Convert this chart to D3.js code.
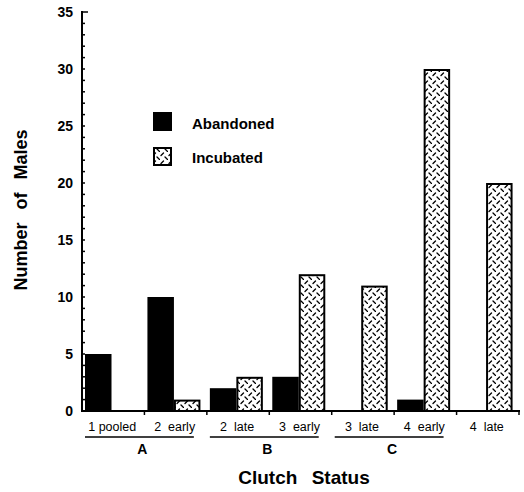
<!DOCTYPE html>
<html>
<head>
<meta charset="utf-8">
<script src="https://cdn.jsdelivr.net/npm/d3@7"></script>
<style>
  body { margin: 0; background: white; }
  svg { display: block; font-family: "Liberation Sans", Arial, sans-serif; }
</style>
</head>
<body>
<svg width="524" height="492"></svg>
<script>
// Data
const categories = ["1 pooled", "2  early", "2  late", "3  early", "3  late", "4  early", "4  late"]
const abandoned = [5, 10, 2, 3, 0, 1, 0]
const incubated = [0, 1, 3, 12, 11, 30, 20]
const groups = ["A", "B", "C"]
const group_members = [[0, 1], [2, 3], [4, 5]]
const y_ticks = [0, 5, 10, 15, 20, 25, 30, 35]

const svg = d3.select("svg")

// Hatch pattern for incubated bars
const defs = svg.append("defs")
const pat = defs.append("pattern")
    .attr("id", "hatch")
    .attr("patternUnits", "userSpaceOnUse")
    .attr("width", 8)
    .attr("height", 8)
pat.append("rect").attr("width", 8).attr("height", 8).attr("fill", "white")
pat.append("path")
    .attr("d", "M1,3.5 L3.5,1 M5,5 L7.5,7.5")
    .attr("stroke", "black")
    .attr("stroke-width", 1.3)
    .attr("stroke-linecap", "round")

const plot_left = 82, plot_right = 519, plot_top = 12, plot_bottom = 411

const x = d3.scaleBand()
    .domain(d3.range(categories.length))
    .range([plot_left, plot_right])

const x1 = d3.scaleBand()
    .domain(["abandoned", "incubated"])
    .range([3, 56])

const y = d3.scaleLinear()
    .domain([0, 35])
    .range([plot_bottom, plot_top])

// Bars
const g = svg.append("g")
categories.forEach(function(c, i) {
    g.append("rect")
        .attr("x", x(i) + x1("abandoned"))
        .attr("y", y(abandoned[i]))
        .attr("width", x1.bandwidth())
        .attr("height", y(0) - y(abandoned[i]))
        .attr("fill", "black")
    if (incubated[i] > 0) {
        g.append("rect")
            .attr("x", x(i) + x1("incubated") + 1)
            .attr("y", y(incubated[i]) + 1)
            .attr("width", x1.bandwidth() - 2)
            .attr("height", y(0) - y(incubated[i]) - 1)
            .attr("fill", "url(#hatch)")
            .attr("stroke", "black")
            .attr("stroke-width", 2)
    }
})

// Y axis: minor ticks every unit, pointing inward
const y_axis = svg.append("g")
y_axis.append("line")
    .attr("x1", plot_left).attr("x2", plot_left)
    .attr("y1", y(35) - 1).attr("y2", y(0) + 1)
    .attr("stroke", "black").attr("stroke-width", 2)
y_axis.selectAll(".minor")
    .data(d3.range(0, 36))
    .enter()
    .append("line")
    .attr("x1", plot_left)
    .attr("x2", d => d == 35 ? plot_left + 6 : plot_left + 3)
    .attr("y1", d => y(d))
    .attr("y2", d => y(d))
    .attr("stroke", "black")
    .attr("stroke-width", 1.5)
y_axis.selectAll("text")
    .data(y_ticks)
    .enter()
    .append("text")
    .attr("x", plot_left - 9)
    .attr("y", d => y(d) + 5)
    .attr("text-anchor", "end")
    .attr("font-size", "14px")
    .attr("font-weight", "bold")
    .text(d => d)

// X axis
const x_axis = svg.append("g")
x_axis.append("line")
    .attr("x1", plot_left - 1).attr("x2", plot_right + 1)
    .attr("y1", plot_bottom).attr("y2", plot_bottom)
    .attr("stroke", "black").attr("stroke-width", 2)
x_axis.selectAll(".tick")
    .data(d3.range(1, categories.length + 1))
    .enter()
    .append("line")
    .attr("x1", d => plot_left + d * x.bandwidth())
    .attr("x2", d => plot_left + d * x.bandwidth())
    .attr("y1", plot_bottom)
    .attr("y2", plot_bottom + 4)
    .attr("stroke", "black")
    .attr("stroke-width", 1.5)
x_axis.selectAll(".cat")
    .data(categories)
    .enter()
    .append("text")
    .attr("x", (d, i) => x(i) + x.bandwidth() / 2 - 1)
    .attr("y", 431)
    .attr("text-anchor", "middle")
    .attr("font-size", "12.5px")
    .style("white-space", "pre")
    .text(d => d)

// Group underlines and labels
groups.forEach(function(name, k) {
    const a = x(group_members[k][0])
    const b = x(group_members[k][1]) + x.bandwidth()
    svg.append("line")
        .attr("x1", a + 3).attr("x2", b - 13)
        .attr("y1", 437).attr("y2", 437)
        .attr("stroke", "black").attr("stroke-width", 1.5)
    svg.append("text")
        .attr("x", (a + b) / 2 - 2)
        .attr("y", 454)
        .attr("text-anchor", "middle")
        .attr("font-size", "14px")
        .attr("font-weight", "bold")
        .text(name)
})

// Axis titles
svg.append("text")
    .attr("x", 304)
    .attr("y", 484)
    .attr("text-anchor", "middle")
    .attr("font-size", "19px")
    .attr("font-weight", "bold")
    .attr("word-spacing", "9px")
    .text("Clutch Status")

svg.append("text")
    .attr("transform", "translate(27,210) rotate(-90)")
    .attr("text-anchor", "middle")
    .attr("font-size", "18px")
    .attr("font-weight", "bold")
    .attr("word-spacing", "8px")
    .text("Number of Males")

// Legend
const legend = svg.append("g")
legend.append("rect")
    .attr("x", 153).attr("y", 112)
    .attr("width", 19).attr("height", 19)
    .attr("fill", "black")
legend.append("rect")
    .attr("x", 154).attr("y", 148)
    .attr("width", 17).attr("height", 17)
    .attr("fill", "url(#hatch)")
    .attr("stroke", "black").attr("stroke-width", 2)
legend.append("text")
    .attr("x", 192).attr("y", 129)
    .attr("font-size", "15px").attr("font-weight", "bold")
    .text("Abandoned")
legend.append("text")
    .attr("x", 192).attr("y", 163)
    .attr("font-size", "15px").attr("font-weight", "bold")
    .text("Incubated")
</script>
</body>
</html>
